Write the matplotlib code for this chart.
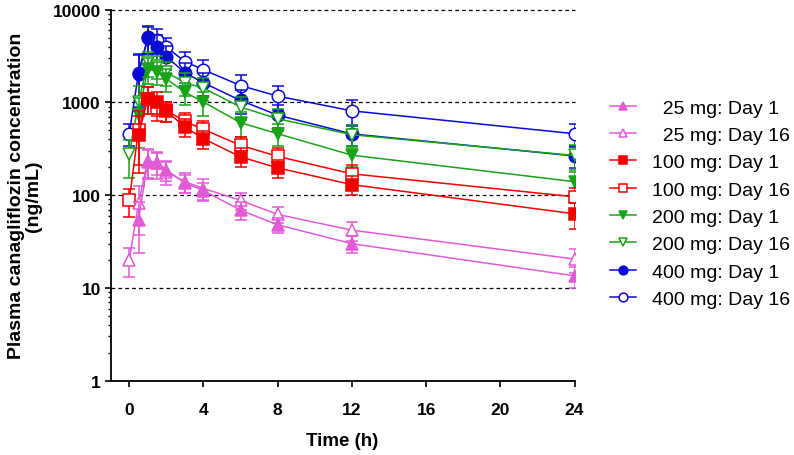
import numpy as np
import matplotlib
matplotlib.use("Agg")
import matplotlib.pyplot as plt
from matplotlib.lines import Line2D
from matplotlib.ticker import FixedLocator, FixedFormatter, LogLocator, NullFormatter

plt.rcParams['font.family'] = ['Liberation Sans', 'DejaVu Sans']

time_h = [0, 0.5, 1, 1.5, 2, 3, 4, 6, 8, 12, 24]
nan = np.nan

mg25_day1 = [nan, 54, 230, 225, 186, 136, 112, 69, 48, 30, 13.5]
mg25_day1_sd = [nan, 30, 80, 60, 45, 30, 25, 15, 9, 6, 3.5]
mg25_day16 = [20, 82, 235, 220, 180, 140, 118, 88, 62, 42, 20.5]
mg25_day16_sd = [7, 45, 80, 70, 50, 35, 30, 18, 12, 10, 6]

mg100_day1 = [nan, 445, 1100, 1010, 808, 543, 407, 259, 197, 130, 63]
mg100_day1_sd = [nan, 270, 350, 300, 200, 120, 90, 60, 45, 30, 20]
mg100_day16 = [88, 510, 1100, 880, 820, 626, 512, 345, 262, 170, 96]
mg100_day16_sd = [30, 300, 350, 250, 200, 150, 120, 80, 60, 40, 25]

mg200_day1 = [nan, 725, 2300, 2150, 1800, 1290, 1010, 605, 460, 270, 140]
mg200_day1_sd = [nan, 400, 700, 600, 500, 350, 300, 180, 120, 70, 40]
mg200_day16 = [275, 1000, 2700, 2500, 2120, 1630, 1430, 892, 667, 449, 268]
mg200_day16_sd = [120, 500, 800, 700, 600, 450, 400, 250, 180, 120, 80]

mg400_day1 = [nan, 2040, 5050, 4000, 3120, 2090, 1630, 1050, 730, 458, 265]
mg400_day1_sd = [nan, 1200, 1700, 1300, 900, 600, 450, 300, 200, 120, 70]
mg400_day16 = [460, 2100, 4900, 4750, 3940, 2760, 2250, 1520, 1170, 812, 460]
mg400_day16_sd = [120, 1200, 1600, 1400, 1000, 700, 650, 450, 350, 250, 120]

labels = ["  25 mg: Day 1", "  25 mg: Day 16", "100 mg: Day 1", "100 mg: Day 16",
          "200 mg: Day 1", "200 mg: Day 16", "400 mg: Day 1", "400 mg: Day 16"]

x_ticks = [0, 4, 8, 12, 16, 20, 24]
y_ticks = [1, 10, 100, 1000, 10000]
y_tick_labels = ["1", "10", "100", "1000", "10000"]

PINK = '#E35AD6'
RED = '#F50000'
GREEN = '#19A319'
BLUE = '#0A0AD6'

series = [
    (mg25_day1, mg25_day1_sd, PINK, '^', True, 9),
    (mg25_day16, mg25_day16_sd, PINK, '^', False, 9),
    (mg100_day1, mg100_day1_sd, RED, 's', True, 8),
    (mg100_day16, mg100_day16_sd, RED, 's', False, 8),
    (mg200_day1, mg200_day1_sd, GREEN, 'v', True, 9),
    (mg200_day16, mg200_day16_sd, GREEN, 'v', False, 9),
    (mg400_day1, mg400_day1_sd, BLUE, 'o', True, 9),
    (mg400_day16, mg400_day16_sd, BLUE, 'o', False, 9),
]

fig = plt.figure(figsize=(7.94, 4.56), dpi=100)
ax = fig.add_axes([110.7 / 794, 1 - 381.7 / 456, (574.5 - 110.7) / 794, (381.7 - 10.7) / 456])

ax.set_yscale('log')
ax.set_ylim(1, 10000)
ax.set_xlim(-1.0, 24)

for yv in [10, 100, 1000, 10000]:
    ax.axhline(yv, color='black', lw=0.9, ls=(0, (3, 2.5)), zorder=1, clip_on=False)

t = np.array(time_h)
handles = []
n = len(series)
for i, (vals, sd, col, mk, filled, ms) in enumerate(series):
    v = np.array(vals, dtype=float)
    s = np.array(sd, dtype=float)
    lower = np.minimum(s, v * 0.999)
    fc = col if filled else 'white'
    ax.errorbar(t, v, yerr=[lower, s], color=col, lw=1.1, marker=mk, ms=ms,
                mfc=fc, mec=col, mew=1.1, capsize=4, elinewidth=1.1, capthick=1.1,
                zorder=10 + (n - i))
    handles.append(Line2D([0], [0], color=col, lw=1.1, marker=mk, ms=ms * 0.7,
                          mfc=fc, mec=col, mew=1.1))

ax.spines['top'].set_visible(False)
ax.spines['right'].set_visible(False)
for sp in ['left', 'bottom']:
    ax.spines[sp].set_linewidth(1.3)
    ax.spines[sp].set_zorder(30)

ax.xaxis.set_major_locator(FixedLocator(x_ticks))
ax.set_xticklabels([str(x) for x in x_ticks])
ax.yaxis.set_major_locator(FixedLocator(y_ticks))
ax.yaxis.set_major_formatter(FixedFormatter(y_tick_labels))
ax.yaxis.set_minor_locator(LogLocator(base=10, subs=np.arange(2, 10)))
ax.yaxis.set_minor_formatter(NullFormatter())

ax.tick_params(axis='both', which='major', direction='out', length=4, width=1.2,
               labelsize=12.5, pad=3)
ax.tick_params(axis='x', which='major', pad=11)
ax.tick_params(axis='y', which='minor', direction='out', length=2.5, width=1.0)
for lab in ax.get_xticklabels() + ax.get_yticklabels():
    lab.set_fontweight('bold')

fig.text(342.6 / 794, 1 - 442 / 456, 'Time (h)', ha='center', va='center',
         fontsize=13.5, fontweight='bold')
fig.text(25 / 794, 1 - 196 / 456, 'Plasma canagliflozin concentration\n(ng/mL)',
         ha='center', va='center', rotation=90, fontsize=14, fontweight='bold',
         multialignment='center', linespacing=1.0)

fig.legend(handles, labels, loc='upper left', bbox_to_anchor=(610 / 794, 1 - 100 / 456),
           frameon=False, fontsize=14, handlelength=1.35, handletextpad=0.8,
           labelspacing=0.5, borderpad=0, borderaxespad=0)

fig.savefig('out.png', dpi=100)
